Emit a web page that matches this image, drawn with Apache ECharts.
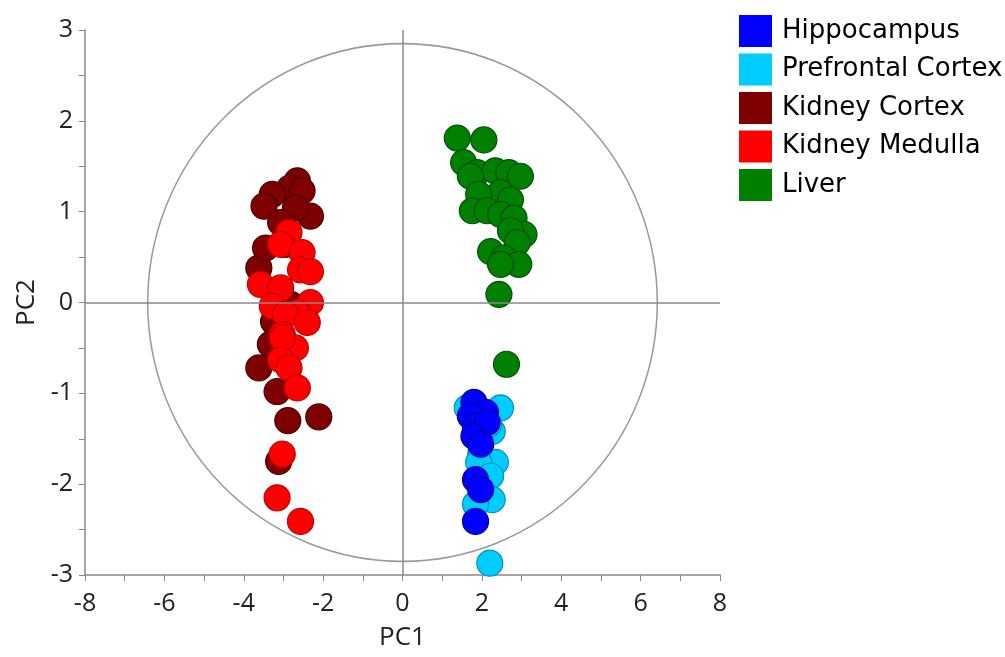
<!DOCTYPE html>
<html>
<head>
<meta charset="utf-8">
<script src="https://cdn.jsdelivr.net/npm/echarts@6/dist/echarts.min.js"></script>
<style>
html,body{margin:0;padding:0;background:#fff;}
#chart{width:1005px;height:657px;}
</style>
</head>
<body>
<div id="chart"></div>
<script>
var byId = function(id){
	return document.getElementById(id);
};

// PCA scores [PC1, PC2]
var hippocampus = [
	[1.80,-1.10],[2.09,-1.21],[1.71,-1.25],[1.84,-1.36],[2.13,-1.32],
	[1.80,-1.47],[1.97,-1.56],[1.84,-1.95],[1.97,-2.06],[1.84,-2.41]
];
var prefrontalCortex = [
	[2.47,-1.16],[1.63,-1.16],[2.26,-1.42],[2.17,-1.34],[1.97,-1.67],
	[2.34,-1.76],[1.92,-1.76],[2.22,-1.91],[2.26,-2.17],[1.84,-2.22],
	[2.20,-2.87]
];
var kidneyCortex = [
	[-2.65,1.34],[-2.84,1.26],[-3.28,1.19],[-3.49,1.06],[-2.53,1.23],
	[-2.32,0.95],[-2.70,1.04],[-3.07,0.88],[-3.62,0.38],[-3.45,0.60],
	[-2.95,0.64],[-2.82,-0.02],[-3.25,-0.21],[-3.33,-0.46],[-3.62,-0.72],
	[-3.16,-0.98],[-2.89,-1.30],[-2.11,-1.26],[-3.12,-1.75]
];
var kidneyMedulla = [
	[-2.86,0.77],[-3.07,0.64],[-2.53,0.55],[-2.57,0.36],[-2.32,0.34],
	[-3.58,0.20],[-3.07,0.16],[-3.28,-0.04],[-2.32,0.00],[-2.65,-0.11],
	[-2.95,-0.13],[-2.40,-0.22],[-3.03,-0.35],[-2.70,-0.50],[-3.03,-0.39],
	[-3.07,-0.63],[-2.86,-0.72],[-2.65,-0.94],[-3.03,-1.67],[-3.16,-2.15],
	[-2.57,-2.41]
];
var liver = [
	[1.38,1.81],[2.05,1.79],[1.54,1.54],[1.88,1.43],[2.34,1.45],
	[2.68,1.43],[2.97,1.39],[1.71,1.39],[2.47,1.21],[1.92,1.19],
	[2.72,1.13],[1.76,1.01],[2.13,1.01],[2.47,0.97],[2.81,0.93],
	[3.06,0.75],[2.72,0.79],[2.89,0.66],[2.22,0.56],[2.55,0.49],
	[2.93,0.42],[2.47,0.42],[2.43,0.09],[2.62,-0.68]
];
// confidence ellipse: centre and semi-axes
var ellipse = [[0, 0, 6.42, 2.85]];

var fontFam = '"Open Sans", "DejaVu Sans", sans-serif';

function scatter(name, data, color, border, z){
	return {
		name: name,
		type: 'scatter',
		data: data,
		z: z,
		symbolSize: 26,
		itemStyle: {
			color: color,
			borderColor: border,
			borderWidth: 1.2,
			opacity: 1
		}
	};
}

var chartOption = {
	animation: false,
	legend: {
		orient: 'vertical',
		left: 739,
		top: 15,
		padding: 0,
		itemWidth: 33,
		itemHeight: 32,
		itemGap: 6.5,
		icon: 'rect',
		itemStyle: { borderWidth: 0 },
		textStyle: {
			fontFamily: '"DejaVu Sans", sans-serif',
			fontSize: 26,
			color: '#000',
			padding: [0, 0, 0, 5]
		},
		data: ['Hippocampus', 'Prefrontal Cortex', 'Kidney Cortex', 'Kidney Medulla', 'Liver']
	},
	grid: {
		left: 85,
		right: 285,
		top: 30,
		bottom: 82,
		outerBoundsMode: 'none'
	},
	xAxis: {
		type: 'value',
		min: -8,
		max: 8,
		interval: 2,
		name: 'PC1',
		nameLocation: 'middle',
		nameGap: 50,
		nameTextStyle: { fontFamily: fontFam, fontSize: 26, color: '#222' },
		axisLine: { onZero: false, lineStyle: { color: '#888', width: 1.5 } },
		axisTick: { show: true, length: 6, lineStyle: { color: '#888' } },
		minorTick: { show: true, splitNumber: 2, length: 6, lineStyle: { color: '#888' } },
		axisLabel: { fontFamily: fontFam, fontSize: 25, color: '#222', margin: 16 },
		splitLine: { show: false }
	},
	yAxis: {
		type: 'value',
		min: -3,
		max: 3,
		interval: 1,
		name: 'PC2',
		nameLocation: 'middle',
		nameGap: 45,
		nameRotate: 90,
		nameTextStyle: { fontFamily: fontFam, fontSize: 26, color: '#222' },
		axisLine: { onZero: false, lineStyle: { color: '#888', width: 1.5 } },
		axisTick: { show: true, length: 6, lineStyle: { color: '#888' } },
		minorTick: { show: true, splitNumber: 2, length: 6, lineStyle: { color: '#888' } },
		axisLabel: { fontFamily: fontFam, fontSize: 25, color: '#222', margin: 12 },
		splitLine: { show: false }
	},
	series: [
		{
			type: 'custom',
			silent: true,
			z: 1,
			data: ellipse,
			renderItem: function(params, api){
				var c = api.coord([api.value(0), api.value(1)]);
				var rx = api.size([api.value(2), 0])[0];
				var ry = api.size([0, api.value(3)])[1];
				return {
					type: 'circle',
					x: c[0],
					y: c[1],
					scaleY: ry / rx,
					shape: { cx: 0, cy: 0, r: rx },
					style: { fill: 'none', stroke: '#999', lineWidth: 1.5, strokeNoScale: true }
				};
			},
			markLine: {
				silent: true,
				symbol: 'none',
				label: { show: false },
				lineStyle: { color: '#888', width: 1.5, type: 'solid' },
				data: [{ xAxis: 0 }, { yAxis: 0 }]
			}
		},
		scatter('Hippocampus', hippocampus, '#0000ff', '#0000a0', 4),
		scatter('Prefrontal Cortex', prefrontalCortex, '#00ccff', '#0090b8', 3),
		scatter('Kidney Cortex', kidneyCortex, '#7f0000', '#4d0000', 3),
		scatter('Kidney Medulla', kidneyMedulla, '#ff0000', '#c00000', 4),
		scatter('Liver', liver, '#007f00', '#005200', 3)
	]
};

var chart = echarts.init(byId('chart'));
chart.setOption(chartOption);
</script>
</body>
</html>
